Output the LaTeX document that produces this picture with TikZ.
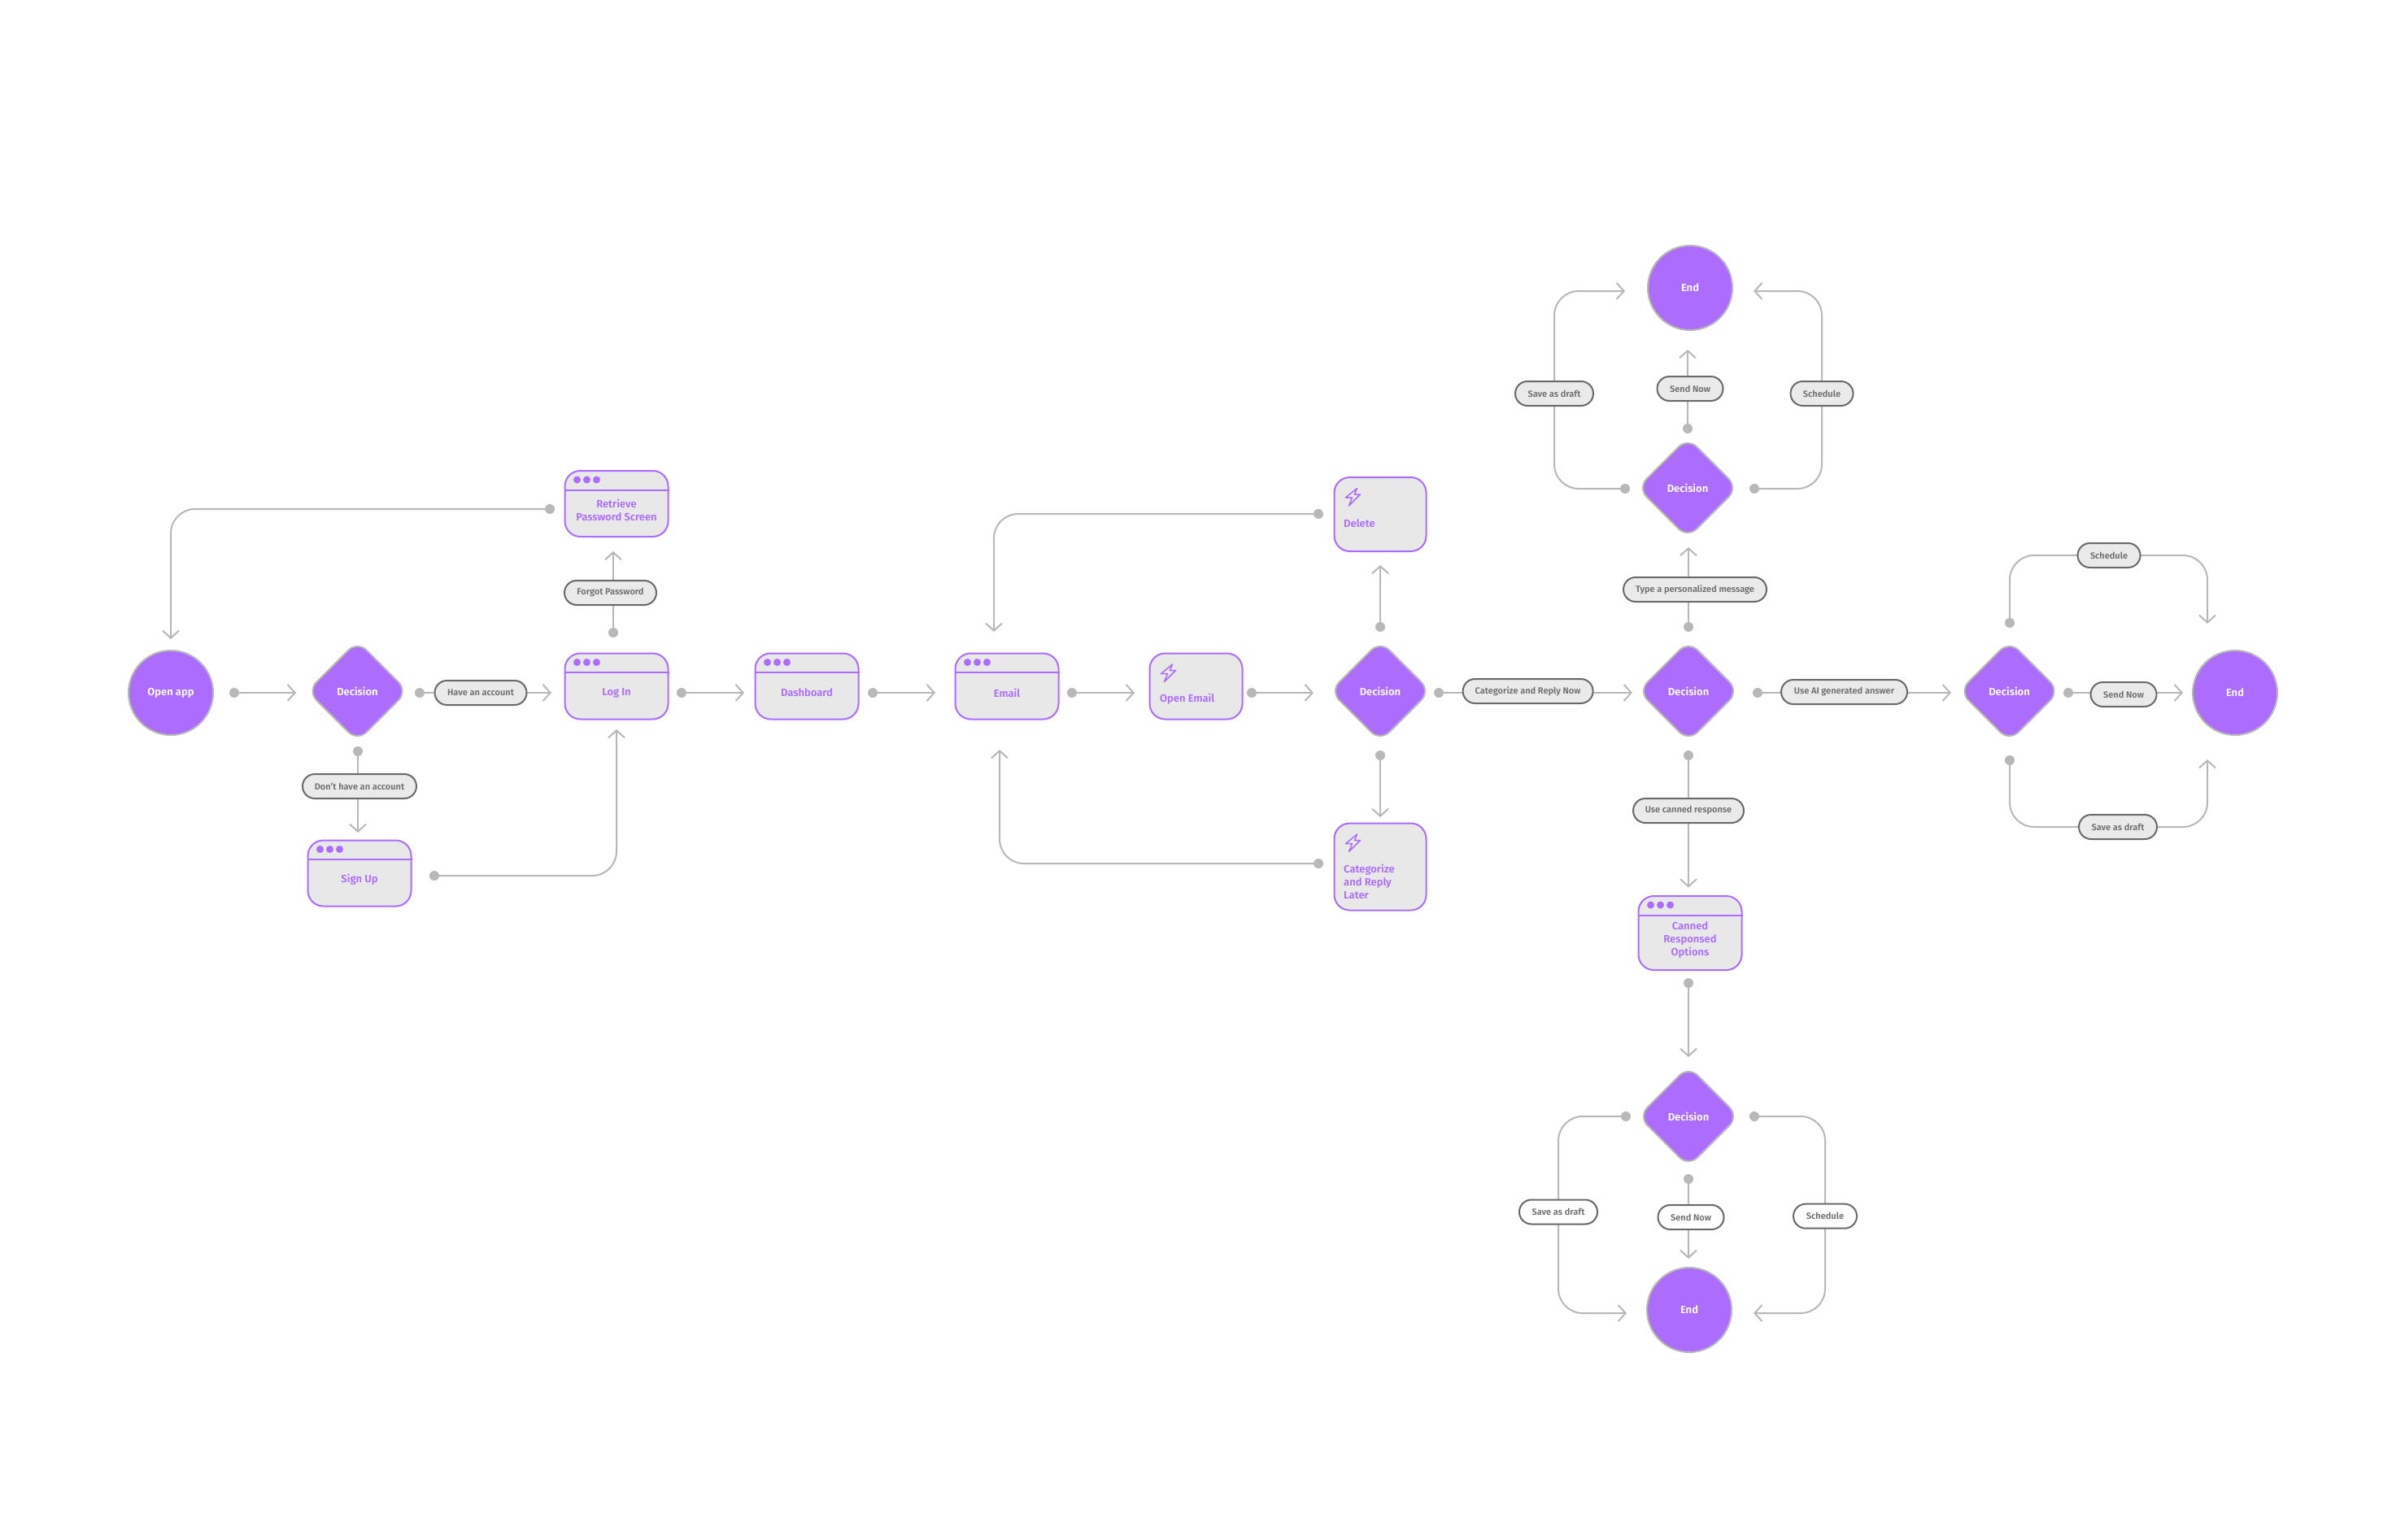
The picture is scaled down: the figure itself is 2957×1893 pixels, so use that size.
\documentclass[tikz,border=0pt]{standalone}
\usepackage{fontspec}
\setmainfont{Fira Sans}[BoldFont={Fira Sans SemiBold}]
\usetikzlibrary{positioning,calc,shapes.geometric,backgrounds,arrows.meta}
\definecolor{accent}{HTML}{AC6DFF}
\definecolor{edgegray}{HTML}{B8B8B8}
\definecolor{panelgray}{HTML}{E8E8E8}
\definecolor{pillline}{HTML}{6A6A6A}
\definecolor{pilltext}{HTML}{6E6E6E}
\tikzset{
  terminal/.style = {circle, draw=edgegray, fill=accent, line width=2pt, minimum size=104pt, inner sep=0pt, text=white, font=\fontsize{13}{16}\selectfont\bfseries},
  decision/.style = {diamond, draw=edgegray, fill=accent, rounded corners=16pt, line width=2pt, minimum width=124pt, minimum height=124pt, inner sep=0pt, text=white, font=\fontsize{13}{16}\selectfont\bfseries},
  winbox/.style   = {draw=accent, fill=panelgray, rounded corners=19pt, line width=2pt, minimum width=127pt, inner sep=0pt},
  wintxt/.style   = {text=accent, align=center, inner sep=0pt, font=\fontsize{13}{16}\selectfont\bfseries},
  acttxt/.style   = {text=accent, align=left, anchor=west, inner sep=0pt, font=\fontsize{13}{16}\selectfont\bfseries},
  windot/.style   = {circle, fill=accent, inner sep=0pt, minimum size=9pt},
  winline/.style  = {draw=accent, line width=2pt},
  bolt/.style     = {draw=accent, line width=1.5pt, line join=round},
  pill/.style     = {draw=pillline, fill=panelgray!90!white, rounded corners=15pt, line width=2pt, minimum height=30pt, inner sep=0pt, text=pilltext, font=\fontsize{11}{13}\selectfont\bfseries},
  pillw/.style    = {pill, fill=white},
  flowdot/.style  = {circle, fill=edgegray, inner sep=0pt, minimum size=12pt},
  flow/.style     = {draw=edgegray, line width=2pt, rounded corners=30pt, -{Straight Barb[length=9pt,width=20pt,line width=2pt]}},
}
\begin{document}
\begin{tikzpicture}[x=1pt,y=-1pt]
  \useasboundingbox (0,0) rectangle (2957,1893);

  % ----- start and end -----
  \foreach \n/\x/\y/\t in {open/210/852/Open app, endTop/2078/354/End, endRight/2748/852/End, endBottom/2077/1611/End} {
    \node[terminal] (\n) at (\x,\y) {\t};
  }
  \foreach \n/\x/\y in {decLogin/439.5/850, decMail/1697/850, decReply/2076/850, decTop/2075/600, decRight/2470.5/850, decBottom/2076/1373} {
    \node[decision] (\n) at (\x,\y) {Decision};
  }

  % ----- screens -----
  \foreach \n/\x/\y/\h/\t in {retrieve/758/619.5/81/{Retrieve\\Password Screen}, login/758/844/81/Log In, signup/442/1074/81/Sign Up,
    dashboard/992/844/81/Dashboard, email/1238/844/81/Email, canned/2078/1147.5/91/{Canned\\Responsed\\Options}} {
    \node[winbox, minimum height=\h pt] (\n) at (\x,\y) {};
    \draw[winline] ([yshift=-24.5pt]\n.north west) -- ([yshift=-24.5pt]\n.north east);
    \foreach \k in {16,28,40} {
      \node[windot] (\n dot\k) at ([xshift=\k pt,yshift=-12pt]\n.north west) {};
    }
    \node[wintxt] (\n txt) at ([yshift=-8pt]\n.center) {\t};
  }

  % ----- actions -----
  \foreach \n/\x/\y/\w/\h/\tx/\ty/\t in {openmail/1470.5/844/114/81/1426/860/Open Email, delete/1697/632.5/113/91/1652/644/Delete,
    later/1697/1066/113/107/1652/1084/{Categorize\\and Reply\\Later}} {
    \node[winbox, minimum width=\w pt, minimum height=\h pt] (\n) at (\x,\y) {};
    \node[acttxt] (\n txt) at (\tx,\ty) {\t};
    \draw[bolt, shift={($(\n.north west)+(24,25)$)}] (5,-10.5) -- (-9,1) -- (-1,1) -- (-5,11) -- (9,-3) -- (2,-3) -- cycle;
  }

  % ----- labels -----
  \foreach \n/\x/\y/\w/\t in {haveAcc/591/852/113/Have an account, noAcc/442/967/140/Don't have an account, forgot/750.5/729/113/Forgot Password,
    catNow/1878.6/850/160/Categorize and Reply Now, personal/2084/725/176/Type a personalized message, cannedUse/2076/997/136/Use canned response,
    aiAns/2267.5/851/155/Use AI generated answer, saveTop/1911/484/96/Save as draft, sendTop/2078/478/81/Send Now, schedTop/2240/484/77/Schedule,
    schedRight/2593/683/77/Schedule, sendRight/2611/854/81/Send Now, saveRight/2604/1017/96/Save as draft} {
    \node[pill, minimum width=\w pt] (\n) at (\x,\y) {\t};
  }
  \foreach \n/\x/\y/\w/\t in {saveBottom/1916/1490.5/96/Save as draft, sendBottom/2079/1497/81/Send Now, schedBottom/2244/1495.7/78/Schedule} {
    \node[pillw, minimum width=\w pt] (\n) at (\x,\y) {\t};
  }

  % ----- connector ends -----
  \foreach \n/\x/\y in {dOpen/288/852, dLoginR/516/852, dLoginD/440/924, dLogin/838/852, dLoginU/754/778, dRetrieve/676/626, dSignup/534/1077,
    dDash/1073/852, dEmail/1318/852, dOpenmail/1539/852, dMailU/1697/771, dMailD/1697/929, dMailR/1769/852, dDelete/1621/632, dLater/1621/1062,
    dReplyU/2076/771, dReplyD/2076/929, dReplyR/2161/852, dCanned/2076/1209, dTopL/1998/601, dTopR/2157/601, dTopU/2075/527,
    dBotL/1999/1373, dBotR/2157/1373, dBotD/2076/1450, dRightU/2471/766, dRightD/2471/935, dRightR/2543/852} {
    \node[flowdot] (\n) at (\x,\y) {};
  }
  \foreach \n/\x/\y in {tDec/364/852, tLogin/678/852, tSignup/440/1024, tRetrieve/754/678, tOpen/210/786, tLoginB/758/897, tDash/915/852, tEmail/1150/852,
    tOpenmail/1395/852, tMail/1615/852, tDelete/1697/695, tLater/1697/1005, tEmailT/1222/777, tEmailB/1229/922, tReply/2007/852, tDecTop/2076/673,
    tCanned/2076/1091.6, tDecBot/2076/1300, tDecRight/2399/852, tEndTopL/1998/358, tEndTopR/2156/358, tEndTopD/2075/430, tEndBotL/2000/1615,
    tEndBotR/2156/1615, tEndBotU/2076/1548, tEndRightR/2684/852, tEndRightU/2714/767, tEndRightD/2714/934} {
    \coordinate (\n) at (\x,\y);
  }

  % ----- connectors -----
  \begin{scope}[on background layer]
    \foreach \a/\b in {dOpen/tDec, dLoginR/tLogin, dLoginD/tSignup, dLoginU/tRetrieve, dLogin/tDash, dDash/tEmail, dEmail/tOpenmail, dOpenmail/tMail,
      dMailU/tDelete, dMailD/tLater, dMailR/tReply, dReplyU/tDecTop, dReplyD/tCanned, dReplyR/tDecRight, dCanned/tDecBot, dTopU/tEndTopD, dBotD/tEndBotU, dRightR/tEndRightR} {
      \draw[flow] (\a) -- (\b);
    }
    \foreach \a/\b in {dRetrieve/tOpen, dSignup/tLoginB, dDelete/tEmailT, dLater/tEmailB} {
      \draw[flow] (\a) -| (\b);
    }
    \foreach \a/\p/\b in {dTopL/saveTop/tEndTopL, dTopR/schedTop/tEndTopR, dBotL/saveBottom/tEndBotL, dBotR/schedBottom/tEndBotR} {
      \draw[flow] (\a) -| (\p.center) |- (\b);
    }
    \foreach \a/\p/\b in {dRightU/schedRight/tEndRightU, dRightD/saveRight/tEndRightD} {
      \draw[flow] (\a) |- (\p.center) -| (\b);
    }
  \end{scope}
\end{tikzpicture}
\end{document}
